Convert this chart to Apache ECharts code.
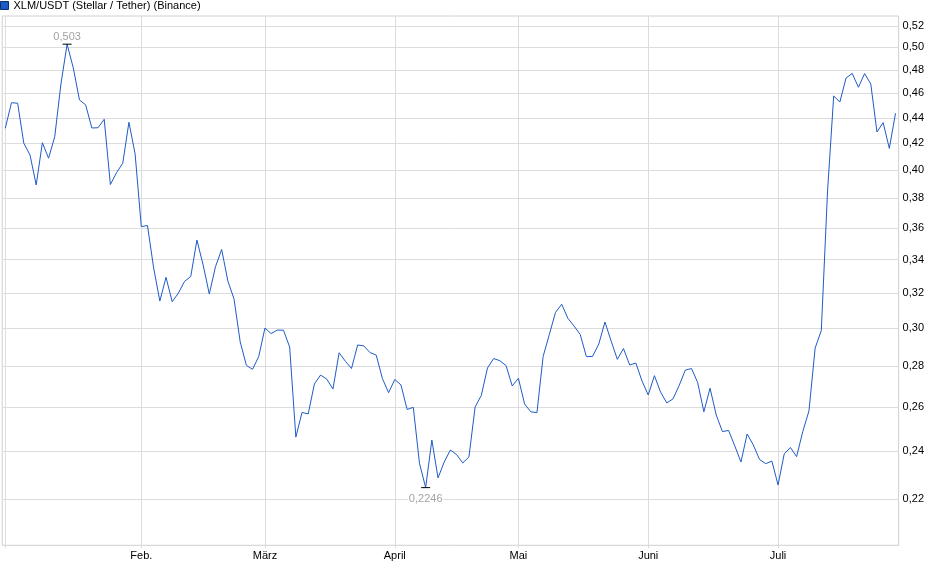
<!DOCTYPE html>
<html><head><meta charset="utf-8">
<script src="https://cdn.jsdelivr.net/npm/echarts@6/dist/echarts.min.js"></script>
<style>html,body{margin:0;padding:0;background:#fff}#c{width:940px;height:579px}</style>
</head><body><div id="c"></div>
<script>
const seriesName = 'XLM/USDT (Stellar / Tether) (Binance)';
const dates = [
'2025-01-02','2025-01-03','2025-01-06','2025-01-07','2025-01-08','2025-01-09','2025-01-10','2025-01-13','2025-01-14','2025-01-15','2025-01-16','2025-01-17','2025-01-20','2025-01-21','2025-01-22','2025-01-23','2025-01-24','2025-01-27','2025-01-28','2025-01-29','2025-01-30','2025-01-31',
'2025-02-03','2025-02-04','2025-02-05','2025-02-06','2025-02-07','2025-02-10','2025-02-11','2025-02-12','2025-02-13','2025-02-14','2025-02-17','2025-02-18','2025-02-19','2025-02-20','2025-02-21','2025-02-24','2025-02-25','2025-02-26','2025-02-27','2025-02-28',
'2025-03-03','2025-03-04','2025-03-05','2025-03-06','2025-03-07','2025-03-10','2025-03-11','2025-03-12','2025-03-13','2025-03-14','2025-03-17','2025-03-18','2025-03-19','2025-03-20','2025-03-21','2025-03-24','2025-03-25','2025-03-26','2025-03-27','2025-03-28','2025-03-31',
'2025-04-01','2025-04-02','2025-04-03','2025-04-04','2025-04-07','2025-04-08','2025-04-09','2025-04-10','2025-04-11','2025-04-14','2025-04-15','2025-04-16','2025-04-17','2025-04-22','2025-04-23','2025-04-24','2025-04-25','2025-04-28','2025-04-29','2025-04-30',
'2025-05-02','2025-05-05','2025-05-06','2025-05-07','2025-05-08','2025-05-09','2025-05-12','2025-05-13','2025-05-14','2025-05-15','2025-05-16','2025-05-19','2025-05-20','2025-05-21','2025-05-22','2025-05-23','2025-05-26','2025-05-27','2025-05-28','2025-05-29','2025-05-30',
'2025-06-02','2025-06-03','2025-06-04','2025-06-05','2025-06-06','2025-06-09','2025-06-10','2025-06-11','2025-06-12','2025-06-13','2025-06-16','2025-06-17','2025-06-18','2025-06-19','2025-06-20','2025-06-23','2025-06-24','2025-06-25','2025-06-26','2025-06-27','2025-06-30',
'2025-07-01','2025-07-02','2025-07-03','2025-07-04','2025-07-07','2025-07-08','2025-07-09','2025-07-10','2025-07-11','2025-07-14','2025-07-15','2025-07-16','2025-07-17','2025-07-18','2025-07-21','2025-07-22','2025-07-23','2025-07-24','2025-07-25','2025-07-28'
];
const prices = [
0.4317,0.4522,0.4518,0.4200,0.4112,0.3894,0.4205,0.4088,0.4251,0.4679,0.5030,0.4817,0.4545,0.4504,0.4319,0.4321,0.4388,0.3897,0.3982,0.4051,0.4364,0.4120,
0.3610,0.3617,0.3348,0.3153,0.3292,0.3149,0.3199,0.3268,0.3297,0.3523,0.3367,0.3194,0.3356,0.3463,0.3270,0.3165,0.2927,0.2805,0.2785,0.2851,
0.3002,0.2972,0.2991,0.2990,0.2900,0.2462,0.2575,0.2568,0.2712,0.2756,0.2736,0.2687,0.2870,0.2827,0.2789,0.2911,0.2906,0.2871,0.2858,0.2739,0.2669,
0.2734,0.2707,0.2589,0.2599,0.2347,0.2246,0.2449,0.2286,0.2353,0.2405,0.2385,0.2349,0.2375,0.2601,0.2656,0.2792,0.2840,0.2829,0.2804,0.2702,
0.2740,0.2615,0.2578,0.2574,0.2851,0.2967,0.3088,0.3135,0.3056,0.3013,0.2967,0.2850,0.2851,0.2916,0.3035,0.2932,0.2836,0.2892,0.2807,0.2817,0.2726,
0.2658,0.2753,0.2672,0.2620,0.2639,0.2704,0.2781,0.2789,0.2719,0.2578,0.2691,0.2563,0.2487,0.2492,0.2423,0.2353,0.2476,0.2427,0.2364,0.2346,0.2357,
0.2257,0.2388,0.2416,0.2376,0.2487,0.2582,0.2895,0.2989,0.3845,0.4578,0.4528,0.4730,0.4769,0.4651,0.4768,0.4679,0.4288,0.4361,0.4162,0.4436
];
const yTicks = [0.22,0.24,0.26,0.28,0.30,0.32,0.34,0.36,0.38,0.40,0.42,0.44,0.46,0.48,0.50,0.52];
const yRange = [0.20224, 0.52943];
const monthNames = {'01':'Jan.','02':'Feb.','03':'März','04':'April','05':'Mai','06':'Juni','07':'Juli'};

const lg = v => Math.log10(v);
const monthStart = new Set();
dates.forEach((d, i) => { if (i === 0 || d.slice(5, 7) !== dates[i - 1].slice(5, 7)) monthStart.add(i); });
const FONT = 'Liberation Sans, Arial, sans-serif';
const GRID = '#dcdcdc';

const chart = echarts.init(document.getElementById('c'), null, {renderer: 'canvas'});
chart.setOption({
  animation: false,
  backgroundColor: '#fff',
  textStyle: {fontFamily: FONT},
  legend: {
    data: [seriesName], left: 0, top: 0, padding: 0,
    icon: 'rect', itemWidth: 8, itemHeight: 8,
    itemStyle: {borderColor: '#0d2f73', borderWidth: 1},
    textStyle: {fontSize: 11, color: '#000', fontFamily: FONT}
  },
  grid: {left: 2.2, right: 41.4, top: 16, bottom: 33.7, show: true, borderColor: '#d0d0d0', borderWidth: 1, containLabel: false, outerBoundsMode: 'none'},
  xAxis: {
    type: 'category', data: dates, boundaryGap: true,
    axisLine: {show: false},
    axisTick: {show: true, length: 3, alignWithLabel: true, interval: (i) => monthStart.has(i), lineStyle: {color: GRID}},
    axisLabel: {
      interval: (i) => monthStart.has(i) && i !== 0, margin: 5,
      fontSize: 11, color: '#000', fontFamily: FONT,
      formatter: (v) => monthNames[v.slice(5, 7)]
    },
    splitLine: {show: true, alignWithLabel: true, interval: (i) => monthStart.has(i), lineStyle: {color: GRID, width: 1}}
  },
  yAxis: {
    type: 'value', position: 'right', scale: true,
    min: lg(yRange[0]), max: lg(yRange[1]),
    axisLine: {show: false},
    axisTick: {show: false, customValues: yTicks.map(lg)},
    axisLabel: {
      customValues: yTicks.map(lg), margin: 4, fontSize: 11, color: '#000', fontFamily: FONT,
      formatter: (v) => Math.pow(10, v).toFixed(2).replace('.', ',')
    },
    splitLine: {show: true, lineStyle: {color: GRID, width: 1}}
  },
  series: [{
    name: seriesName, type: 'line',
    data: prices.map(lg),
    symbol: 'none', showSymbol: false,
    lineStyle: {color: '#1f5bc6', width: 1},
    itemStyle: {color: '#1f5bc6'},
    markPoint: {
      symbol: 'rect', symbolSize: [9, 1],
      itemStyle: {color: '#000'},
      label: {
        fontSize: 11, color: '#a3a3a3', fontFamily: FONT,
        backgroundColor: '#fff', padding: [0, 1],
        formatter: (p) => String(parseFloat(Math.pow(10, p.value).toPrecision(4))).replace('.', ',')
      },
      data: [
        {type: 'max', label: {position: 'top', distance: 1}},
        {type: 'min', label: {position: 'bottom', distance: 5}}
      ]
    }
  }]
});
</script></body></html>
